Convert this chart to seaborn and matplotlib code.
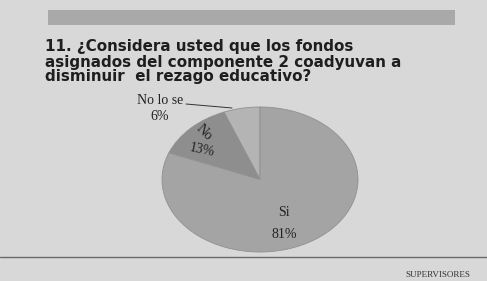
import numpy as np
import seaborn as sns
import matplotlib.pyplot as plt

# data
categories = ["No lo se", "No", "Si"]
shares = [6, 13, 81]
slice_colors = ["#b4b4b4", "#8e8e8e", "#a4a4a4"]
title_lines = ["11. ¿Considera usted que los fondos",
               "asignados del componente 2 coadyuvan a",
               "disminuir  el rezago educativo?"]
footer = "SUPERVISORES"

sns.set_theme(style="white")
plt.rcParams['font.family'] = ['DejaVu Sans']

W, H = 487, 281
fig = plt.figure(figsize=(W / 100, H / 100), dpi=100)
fig.patch.set_facecolor("#d8d8d8")

# overlay in pixel coordinates for the page decorations
bg = fig.add_axes([0, 0, 1, 1])
bg.set_xlim(0, W)
bg.set_ylim(H, 0)
bg.axis("off")
bg.add_patch(plt.Rectangle((48, 10), 407, 15, color="#a9a9a9", lw=0))
for i, line in enumerate(title_lines):
    bg.text(45, 47 + i * 15, line, fontsize=10.9, fontweight="heavy",
            color="#1e1e1e", va="center", ha="left")
bg.plot([0, W], [257, 257], color="#6a6a6a", lw=1)
bg.text(470, 275, footer, fontsize=6.5, family="Liberation Serif",
        color="#333333", ha="right", va="center")

# pie (tilted look: ellipse filling its own axes)
ax = fig.add_axes([162 / W, (H - 252) / H, 196 / W, 145 / H])
wedges, _ = ax.pie(shares, colors=slice_colors, startangle=90,
                   counterclock=True, radius=1,
                   wedgeprops=dict(edgecolor="#909090", linewidth=0.6))
ax.set_xlim(-1, 1)
ax.set_ylim(-1, 1)
ax.set_aspect("auto")
ax.axis("off")

# labels on top of the pie
top = fig.add_axes([0, 0, 1, 1])
top.set_xlim(0, W)
top.set_ylim(H, 0)
top.axis("off")
top.patch.set_alpha(0)

lab = dict(family="Liberation Serif", fontsize=10, color="#222222",
           ha="center", va="center")
top.text(160, 101, "No lo se", **lab)
top.text(160, 117, "6%", **lab)
top.plot([186, 232], [104, 108], color="#333333", lw=0.7)
top.text(204, 133, "No", rotation=-45, **lab)
top.text(202, 150, "13%", rotation=-12, **lab)
top.text(284, 213, "Si", **lab)
top.text(284, 234, "81%", **lab)

fig.savefig("out.png", dpi=100, facecolor=fig.get_facecolor())
